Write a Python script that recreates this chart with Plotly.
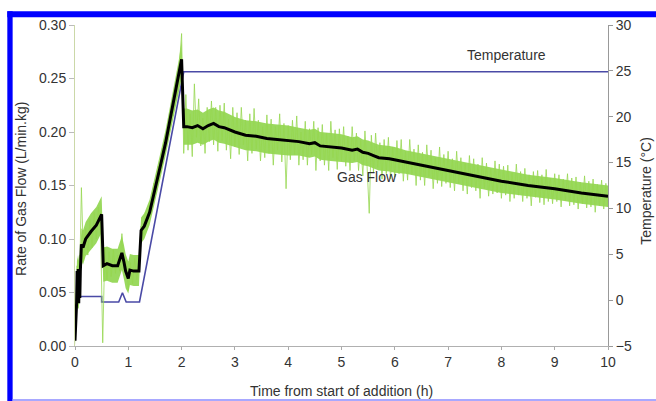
import numpy as np
import plotly.graph_objects as go

# ---------------- data ----------------
# raw gas-flow readings (L/min.kg), sampled every 0.04 h from 0 to 10 h
flow_raw = [
    0.010, 0.075, 0.045, 0.148, 0.080, 0.110, 0.085, 0.118, 0.092, 0.125,
    0.100, 0.130, 0.108, 0.003, 0.092, 0.062, 0.088, 0.065, 0.090, 0.068,
    0.085, 0.070, 0.105, 0.075, 0.080, 0.052, 0.078, 0.058, 0.082, 0.062,
    0.080, 0.112, 0.105, 0.125, 0.118, 0.135, 0.132, 0.152, 0.150, 0.168,
    0.165, 0.185, 0.182, 0.200, 0.198, 0.218, 0.215, 0.238, 0.235, 0.262,
    0.292, 0.180,
    0.235, 0.183, 0.217, 0.177, 0.245, 0.195, 0.231, 0.187, 0.213, 0.180,
    0.223, 0.191, 0.229, 0.188, 0.223, 0.182, 0.225, 0.192, 0.227, 0.183,
    0.212, 0.175, 0.223, 0.186,
    0.218, 0.179, 0.223, 0.188, 0.211, 0.173, 0.217, 0.180, 0.222, 0.184,
    0.211, 0.173, 0.205, 0.176, 0.216, 0.180, 0.212, 0.169, 0.205, 0.183,
    0.217, 0.172, 0.208, 0.147, 0.206,
    0.174, 0.211, 0.179, 0.215, 0.169, 0.200, 0.174, 0.210, 0.169, 0.203,
    0.179, 0.210, 0.164, 0.204, 0.173, 0.207, 0.169, 0.199, 0.164, 0.210,
    0.176, 0.202, 0.165, 0.203, 0.173,
    0.205, 0.168, 0.196, 0.164, 0.205, 0.173, 0.199, 0.164, 0.192, 0.159,
    0.201, 0.168, 0.124, 0.197, 0.162, 0.199, 0.167, 0.190, 0.156, 0.193,
    0.161, 0.195, 0.156, 0.186, 0.158,
    0.192, 0.161, 0.193, 0.154, 0.182, 0.155, 0.193, 0.161, 0.184, 0.150,
    0.188, 0.155, 0.181, 0.150, 0.188, 0.158, 0.183, 0.147, 0.176, 0.152,
    0.186, 0.149, 0.179, 0.152, 0.182,
    0.148, 0.175, 0.145, 0.182, 0.152, 0.176, 0.145, 0.171, 0.142, 0.178,
    0.148, 0.175, 0.145, 0.170, 0.138, 0.176, 0.147, 0.171, 0.140, 0.166,
    0.142, 0.173, 0.143, 0.170, 0.138,
    0.168, 0.141, 0.169, 0.135, 0.162, 0.138, 0.170, 0.141, 0.163, 0.135,
    0.166, 0.138, 0.160, 0.131, 0.163, 0.139, 0.164, 0.134, 0.160, 0.132,
    0.165, 0.135, 0.157, 0.133, 0.161,
    0.135, 0.160, 0.130, 0.156, 0.136, 0.161, 0.131, 0.157, 0.132, 0.158,
    0.128, 0.153, 0.133, 0.159, 0.129, 0.154, 0.130, 0.156, 0.125, 0.151,
    0.131, 0.155, 0.128, 0.152, 0.130,
]
flow_raw_time = np.round(np.arange(len(flow_raw)) * 0.04, 2)

# smoothed gas flow (black line) and the dense core of the raw readings
flow_smooth_time = [
    0.00, 0.03, 0.04, 0.05, 0.06, 0.07, 0.08, 0.09, 0.10, 0.12, 0.15, 0.20,
    0.30, 0.40, 0.50, 0.53, 0.60, 0.70, 0.80, 0.85, 0.88, 0.92, 0.95, 1.00,
    1.03, 1.10, 1.20, 1.24, 1.30, 1.40, 1.50, 1.60, 1.70, 1.80, 1.90, 1.95,
    2.00, 2.04, 2.10, 2.20, 2.30, 2.40, 2.50, 2.60, 2.70, 2.80, 3.00, 3.20,
    3.40, 3.60, 3.80, 4.00, 4.20, 4.40, 4.50, 4.60, 4.80, 5.00, 5.20, 5.30,
    5.40, 5.50, 5.60, 5.70, 5.90, 6.00, 6.20, 6.50, 7.00, 7.50, 8.00, 8.50,
    9.00, 9.50, 10.00,
]
flow_smooth = [
    0.005, 0.040, 0.070, 0.045, 0.072, 0.040, 0.070, 0.045, 0.070, 0.095, 0.092, 0.100,
    0.107, 0.113, 0.123, 0.075, 0.077, 0.075, 0.075, 0.082, 0.087, 0.078, 0.070, 0.063,
    0.071, 0.070, 0.070, 0.108, 0.112, 0.125, 0.148, 0.168, 0.190, 0.215, 0.240, 0.252,
    0.268, 0.205, 0.205, 0.204, 0.206, 0.203, 0.206, 0.208, 0.205, 0.204, 0.200, 0.197,
    0.196, 0.194, 0.193, 0.192, 0.191, 0.189, 0.190, 0.187, 0.186, 0.185, 0.183, 0.184,
    0.181, 0.180, 0.178, 0.176, 0.175, 0.174, 0.172, 0.169, 0.164, 0.159, 0.154, 0.150,
    0.147, 0.143, 0.140,
]
flow_core_upper = [
    0.010, 0.060, 0.085, 0.080, 0.085, 0.080, 0.085, 0.085, 0.090, 0.110, 0.108, 0.116,
    0.124, 0.130, 0.140, 0.092, 0.093, 0.091, 0.091, 0.098, 0.103, 0.094, 0.086, 0.079,
    0.086, 0.085, 0.085, 0.120, 0.124, 0.137, 0.160, 0.180, 0.202, 0.228, 0.254, 0.268,
    0.285, 0.222, 0.222, 0.220, 0.221, 0.218, 0.221, 0.223, 0.220, 0.219, 0.214, 0.211,
    0.210, 0.208, 0.207, 0.206, 0.204, 0.202, 0.203, 0.200, 0.199, 0.198, 0.195, 0.196,
    0.193, 0.192, 0.190, 0.188, 0.187, 0.186, 0.183, 0.180, 0.175, 0.170, 0.165, 0.160,
    0.157, 0.153, 0.150,
]
flow_core_lower = [
    0.000, 0.030, 0.040, 0.035, 0.035, 0.035, 0.040, 0.040, 0.050, 0.080, 0.076, 0.084,
    0.090, 0.096, 0.106, 0.060, 0.061, 0.059, 0.059, 0.066, 0.071, 0.062, 0.054, 0.049,
    0.057, 0.056, 0.056, 0.096, 0.100, 0.113, 0.136, 0.156, 0.178, 0.202, 0.226, 0.238,
    0.250, 0.188, 0.188, 0.188, 0.190, 0.188, 0.191, 0.193, 0.190, 0.189, 0.186, 0.183,
    0.182, 0.180, 0.179, 0.178, 0.178, 0.176, 0.177, 0.174, 0.173, 0.172, 0.171, 0.172,
    0.169, 0.168, 0.166, 0.164, 0.163, 0.162, 0.161, 0.158, 0.153, 0.148, 0.143, 0.140,
    0.137, 0.133, 0.130,
]

# temperature (deg C)
temp_time = [0.05, 0.50, 0.50, 0.82, 0.89, 0.96, 1.21, 2.04, 10.00]
temp_val = [0.4, 0.4, -0.2, -0.2, 0.8, -0.2, -0.2, 24.9, 24.9]

x_ticks = list(range(0, 11))
flow_ticks = [0.00, 0.05, 0.10, 0.15, 0.20, 0.25, 0.30]
temp_ticks = [-5, 0, 5, 10, 15, 20, 25, 30]

# ---------------- figure ----------------
FONT = "Liberation Sans, Arial, sans-serif"
TXT = "#333333"
FS = 14

fig = go.Figure()

fig.add_trace(go.Scatter(
    x=temp_time, y=temp_val, mode="lines", yaxis="y",
    line=dict(color="#4a4aa6", width=1.6), showlegend=False, hoverinfo="skip"))

fig.add_trace(go.Scatter(
    x=flow_smooth_time, y=flow_core_lower, mode="lines", yaxis="y2",
    line=dict(color="rgba(0,0,0,0)", width=0), showlegend=False,
    hoverinfo="skip"))
fig.add_trace(go.Scatter(
    x=flow_smooth_time, y=flow_core_upper, mode="lines", yaxis="y2",
    fill="tonexty", fillcolor="rgba(120,204,40,0.75)",
    line=dict(color="rgba(0,0,0,0)", width=0), showlegend=False,
    hoverinfo="skip"))

fig.add_trace(go.Scatter(
    x=flow_raw_time, y=flow_raw, mode="lines", yaxis="y2",
    line=dict(color="rgba(150,215,80,0.8)", width=1), showlegend=False,
    hoverinfo="skip"))

fig.add_trace(go.Scatter(
    x=flow_smooth_time, y=flow_smooth, mode="lines", yaxis="y2",
    line=dict(color="#000000", width=3), showlegend=False, hoverinfo="skip"))

fig.update_layout(
    width=656, height=401,
    margin=dict(l=75, r=48, t=25, b=55, autoexpand=False),
    paper_bgcolor="white", plot_bgcolor="white",
    font=dict(family=FONT, size=FS, color=TXT),
    xaxis=dict(
        range=[0, 10], tickvals=x_ticks, ticks="outside", ticklen=3,
        tickcolor="#aaaaaa", showline=True, linecolor="#b0b0b0", linewidth=1,
        showgrid=False, zeroline=False, tickfont=dict(size=FS, color=TXT),
    ),
    yaxis=dict(
        side="right", range=[-5, 30], tickvals=temp_ticks, ticks="outside",
        ticklen=4, tickcolor="#999999", showline=True, linecolor="#999999",
        linewidth=1, showgrid=False, zeroline=False,
        tickfont=dict(size=FS, color=TXT), anchor="x",
    ),
    yaxis2=dict(
        side="left", overlaying="y", range=[0, 0.30], tickvals=flow_ticks,
        tickformat=".2f", ticks="outside", ticklen=5, tickcolor="#bbbbbb",
        showline=True, linecolor="#cbd8a8", linewidth=1, showgrid=False,
        zeroline=False, tickfont=dict(size=FS, color=TXT), anchor="x",
    ),
    annotations=[
        dict(text="Rate of Gas Flow (L/min.kg)", xref="paper", yref="paper",
             x=-0.101, y=0.49, textangle=-90, showarrow=False,
             font=dict(size=FS, color=TXT), xanchor="center", yanchor="middle"),
        dict(text="Temperature (°C)", xref="paper", yref="paper",
             x=1.072, y=0.485, textangle=-90, showarrow=False,
             font=dict(size=FS, color=TXT), xanchor="center", yanchor="middle"),
        dict(text="Time from start of addition (h)", xref="paper", yref="paper",
             x=0.5, y=-0.14, showarrow=False,
             font=dict(size=FS, color=TXT), xanchor="center", yanchor="middle"),
        dict(text="Temperature", xref="x", yref="y2", x=8.1, y=0.272,
             showarrow=False, font=dict(size=FS, color=TXT)),
        dict(text="Gas Flow", xref="x", yref="y2", x=5.48, y=0.158,
             showarrow=False, font=dict(size=FS, color=TXT)),
    ],
    shapes=[
        dict(type="rect", xref="paper", yref="paper", x0=-0.127, x1=1.2,
             y0=1.024, y1=1.043, fillcolor="#0000ff", line=dict(width=0),
             layer="above"),
        dict(type="rect", xref="paper", yref="paper", x0=-0.127, x1=-0.117,
             y0=-0.2, y1=1.043, fillcolor="#0000ff", line=dict(width=0),
             layer="above"),
        dict(type="rect", xref="paper", yref="paper", x0=-0.117, x1=1.2,
             y0=-0.171, y1=-0.165, fillcolor="#a8a8ff", line=dict(width=0),
             layer="above"),
    ],
)

fig.write_html(
    "out.html",
    config={"displayModeBar": False},
    post_script="document.body.style.margin='0';document.body.style.padding='0';",
)
